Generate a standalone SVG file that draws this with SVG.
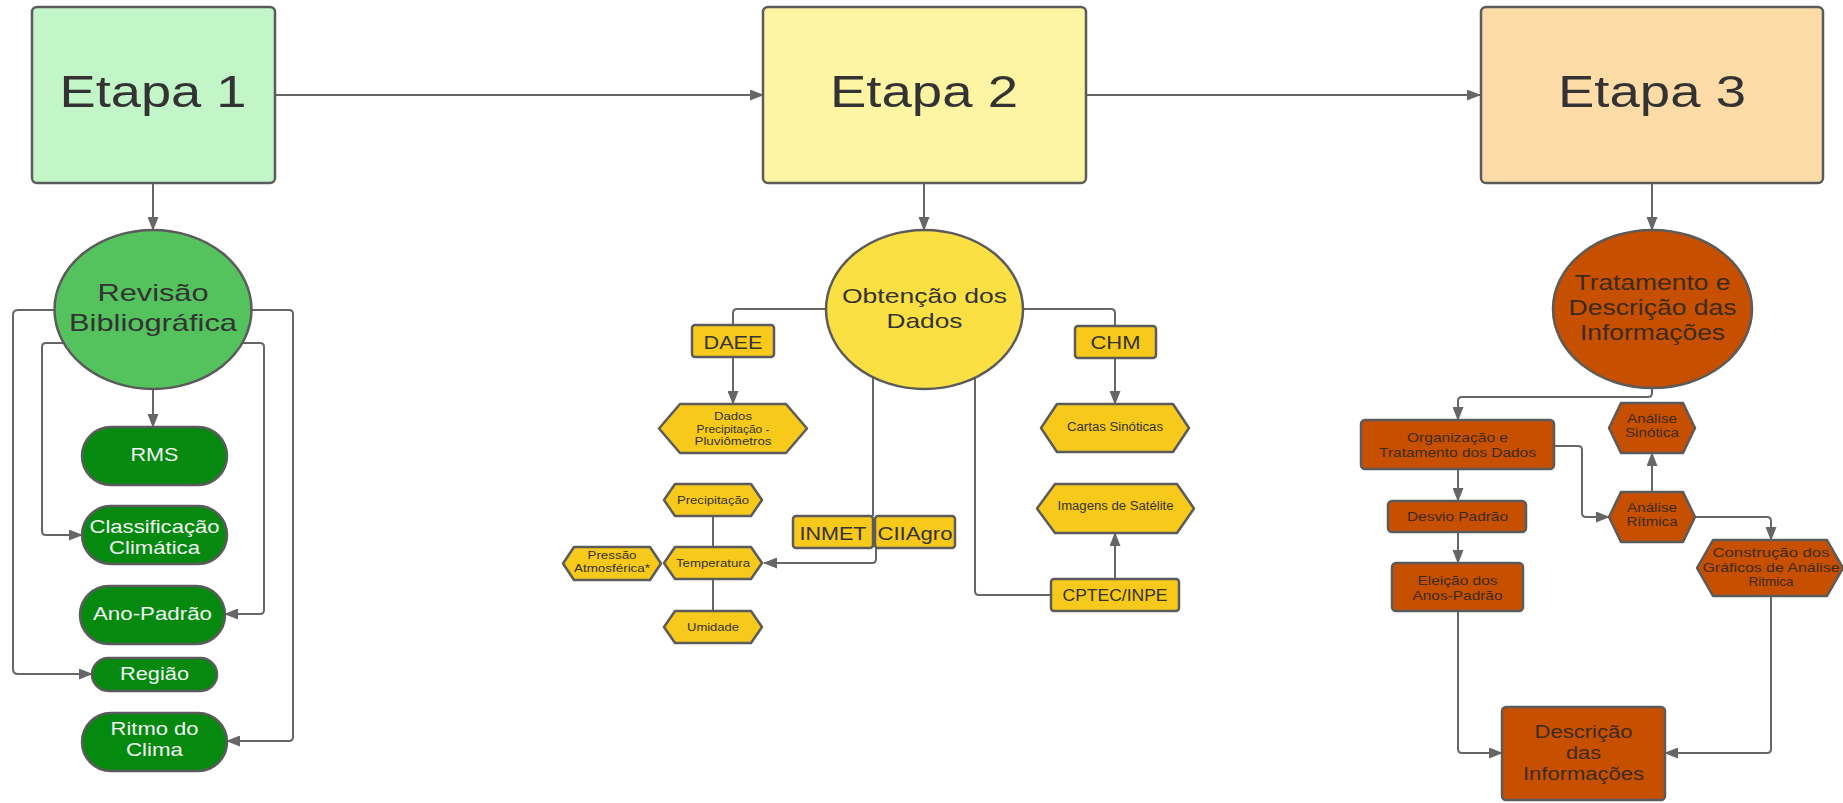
<svg xmlns="http://www.w3.org/2000/svg" width="1843" height="803" viewBox="0 0 1843 803">
<style>
.conn{fill:none;stroke:#666;stroke-width:2}
.nd{stroke:#5b5b5b;stroke-width:2.5}
text{font-family:"Liberation Sans",Arial,sans-serif;text-anchor:middle}
.big{font-size:44px;fill:#333}
.e1{fill:#c2f5c8}.e2{fill:#fdf5a3}.e3{fill:#fddca8}
.g1{fill:#54c25d}.g2{fill:#05890f}
.y1{fill:#fbe043}.y2{fill:#f7c91a}
.o1{fill:#c64f00}
.tg{font-size:18.5px;fill:#f2f5f2}
.td{fill:#333}
.to{fill:#3d2a1e}
</style>
<defs>
<marker id="ah" markerUnits="userSpaceOnUse" markerWidth="14" markerHeight="11" refX="13" refY="5.5" orient="auto"><path d="M0,0 L14,5.5 L0,11 z" fill="#666"/></marker>
</defs>
<g id="connectors">
<path class="conn" d="M275,95 L763,95" marker-end="url(#ah)"/>
<path class="conn" d="M1086,95 L1480,95" marker-end="url(#ah)"/>
<path class="conn" d="M153,183 L153,230" marker-end="url(#ah)"/>
<path class="conn" d="M924,183 L924,230" marker-end="url(#ah)"/>
<path class="conn" d="M1652,183 L1652,230" marker-end="url(#ah)"/>
<path class="conn" d="M153,389 L153,427" marker-end="url(#ah)"/>
<path class="conn" d="M60,310 L18,310 Q13,310 13,315 L13,669 Q13,674 18,674 L92,674" marker-end="url(#ah)"/>
<path class="conn" d="M66,343 L46,343 Q42,343 42,347 L42,531 Q42,535 46,535 L82,535" marker-end="url(#ah)"/>
<path class="conn" d="M240,343 L260,343 Q264,343 264,347 L264,610 Q264,614 260,614 L225,614" marker-end="url(#ah)"/>
<path class="conn" d="M245,310 L289,310 Q293,310 293,314 L293,737 Q293,741 289,741 L227,741" marker-end="url(#ah)"/>
<path class="conn" d="M830,309 L737,309 Q733,309 733,313 L733,325"/>
<path class="conn" d="M733,357 L733,404" marker-end="url(#ah)"/>
<path class="conn" d="M1020,309 L1111,309 Q1115,309 1115,313 L1115,326"/>
<path class="conn" d="M1115,358 L1115,404" marker-end="url(#ah)"/>
<path class="conn" d="M873,370 L873,516"/>
<path class="conn" d="M876,548 L876,559 Q876,563 872,563 L764,563" marker-end="url(#ah)"/>
<path class="conn" d="M975,370 L975,591 Q975,595 979,595 L1051,595"/>
<path class="conn" d="M1115,579 L1115,533" marker-end="url(#ah)"/>
<path class="conn" d="M713,516 L713,547"/>
<path class="conn" d="M713,579 L713,611"/>
<path class="conn" d="M1652,385 L1652,393 Q1652,397 1648,397 L1462,397 Q1458,397 1458,401 L1458,420" marker-end="url(#ah)"/>
<path class="conn" d="M1458,469 L1458,501" marker-end="url(#ah)"/>
<path class="conn" d="M1458,532 L1458,563" marker-end="url(#ah)"/>
<path class="conn" d="M1458,611 L1458,749 Q1458,753 1462,753 L1502,753" marker-end="url(#ah)"/>
<path class="conn" d="M1554,446 L1578,446 Q1582,446 1582,450 L1582,513 Q1582,517 1586,517 L1609,517" marker-end="url(#ah)"/>
<path class="conn" d="M1652,492 L1652,453" marker-end="url(#ah)"/>
<path class="conn" d="M1695,517 L1767,517 Q1771,517 1771,521 L1771,540" marker-end="url(#ah)"/>
<path class="conn" d="M1771,596 L1771,749 Q1771,753 1767,753 L1665,753" marker-end="url(#ah)"/>
</g>
<g id="etapa1"><rect class="nd e1" x="32" y="7" width="243" height="176" rx="5"/><text class="big" x="153" y="107" textLength="187" lengthAdjust="spacingAndGlyphs">Etapa 1</text></g>
<g id="etapa2"><rect class="nd e2" x="763" y="7" width="323" height="176" rx="5"/><text class="big" x="924" y="107" textLength="188" lengthAdjust="spacingAndGlyphs">Etapa 2</text></g>
<g id="etapa3"><rect class="nd e3" x="1481" y="7" width="342" height="176" rx="5"/><text class="big" x="1652" y="107" textLength="188" lengthAdjust="spacingAndGlyphs">Etapa 3</text></g>

<g id="revisao"><ellipse class="nd g1" cx="153" cy="309.5" rx="98.5" ry="79.5"/><text class="td" font-size="24" x="153" y="301" textLength="111" lengthAdjust="spacingAndGlyphs">Revisão</text><text class="td" font-size="24" x="153" y="331" textLength="168" lengthAdjust="spacingAndGlyphs">Bibliográfica</text></g>
<g id="rms"><rect class="nd g2" x="82" y="427" width="145" height="58" rx="29"/><text class="tg" x="154.5" y="461" textLength="48" lengthAdjust="spacingAndGlyphs">RMS</text></g>
<g id="classificacao"><rect class="nd g2" x="82" y="506" width="145" height="58" rx="29"/><text class="tg" x="154.5" y="533" textLength="130" lengthAdjust="spacingAndGlyphs">Classificação</text><text class="tg" x="154.5" y="554" textLength="91" lengthAdjust="spacingAndGlyphs">Climática</text></g>
<g id="anopadrao"><rect class="nd g2" x="80" y="586" width="145" height="58" rx="29"/><text class="tg" x="152.5" y="620" textLength="119" lengthAdjust="spacingAndGlyphs">Ano-Padrão</text></g>
<g id="regiao"><rect class="nd g2" x="92" y="658" width="125" height="33" rx="16.5"/><text class="tg" x="154.5" y="680" textLength="69" lengthAdjust="spacingAndGlyphs">Região</text></g>
<g id="ritmo"><rect class="nd g2" x="82" y="713" width="145" height="58" rx="29"/><text class="tg" x="154.5" y="735" textLength="88" lengthAdjust="spacingAndGlyphs">Ritmo do</text><text class="tg" x="154.5" y="756" textLength="57" lengthAdjust="spacingAndGlyphs">Clima</text></g>

<g id="obtencao"><ellipse class="nd y1" cx="924.5" cy="309.5" rx="98.5" ry="79.5"/><text class="td" font-size="21" x="924.5" y="303" textLength="165" lengthAdjust="spacingAndGlyphs">Obtenção dos</text><text class="td" font-size="21" x="924.5" y="328" textLength="76" lengthAdjust="spacingAndGlyphs">Dados</text></g>
<g id="daee"><rect class="nd y2" x="692" y="325" width="82" height="32" rx="3"/><text class="td" font-size="18.5" x="733" y="349" textLength="59" lengthAdjust="spacingAndGlyphs">DAEE</text></g>
<g id="chm"><rect class="nd y2" x="1075" y="326" width="81" height="32" rx="3"/><text class="td" font-size="18.5" x="1115.5" y="349" textLength="50" lengthAdjust="spacingAndGlyphs">CHM</text></g>
<g id="dadosprecip"><polygon class="nd y2" stroke-linejoin="round" points="659,428.5 680,404 786,404 807,428.5 786,453 680,453"/><text class="td" font-size="11" x="733" y="420" textLength="38" lengthAdjust="spacingAndGlyphs">Dados</text><text class="td" font-size="11" x="733" y="432.5" textLength="73" lengthAdjust="spacingAndGlyphs">Precipitação -</text><text class="td" font-size="11" x="733" y="445" textLength="77" lengthAdjust="spacingAndGlyphs">Pluviômetros</text></g>
<g id="cartas"><polygon class="nd y2" stroke-linejoin="round" points="1041,428 1057,404 1173,404 1189,428 1173,452 1057,452"/><text class="td" font-size="12" x="1115" y="431" textLength="96" lengthAdjust="spacingAndGlyphs">Cartas Sinóticas</text></g>
<g id="imagens"><polygon class="nd y2" stroke-linejoin="round" points="1037,508.5 1055,484 1177,484 1194,508.5 1177,533 1055,533"/><text class="td" font-size="12" x="1115.5" y="510" textLength="116" lengthAdjust="spacingAndGlyphs">Imagens de Satélite</text></g>
<g id="cptec"><rect class="nd y2" x="1051" y="579" width="128" height="32" rx="3"/><text class="td" font-size="17" x="1115" y="601" textLength="105" lengthAdjust="spacingAndGlyphs">CPTEC/INPE</text></g>
<g id="inmet"><rect class="nd y2" x="793" y="516" width="80" height="32" rx="3"/><text class="td" font-size="18.5" x="833" y="540" textLength="67" lengthAdjust="spacingAndGlyphs">INMET</text></g>
<g id="ciiagro"><rect class="nd y2" x="875" y="516" width="80" height="32" rx="3"/><text class="td" font-size="18.5" x="915" y="540" textLength="75" lengthAdjust="spacingAndGlyphs">CIIAgro</text></g>
<g id="precipitacao"><polygon class="nd y2" stroke-linejoin="round" points="664,500 675,484 751,484 762,500 751,516 675,516"/><text class="td" font-size="11.5" x="713" y="504" textLength="72" lengthAdjust="spacingAndGlyphs">Precipitação</text></g>
<g id="temperatura"><polygon class="nd y2" stroke-linejoin="round" points="664,563 675,547 751,547 762,563 751,579 675,579"/><text class="td" font-size="11.5" x="713" y="567" textLength="74" lengthAdjust="spacingAndGlyphs">Temperatura</text></g>
<g id="umidade"><polygon class="nd y2" stroke-linejoin="round" points="664,627 675,611 751,611 762,627 751,643 675,643"/><text class="td" font-size="11.5" x="713" y="631" textLength="52" lengthAdjust="spacingAndGlyphs">Umidade</text></g>
<g id="pressao"><polygon class="nd y2" stroke-linejoin="round" points="563,563.5 574,547 650,547 661,563.5 650,580 574,580"/><text class="td" font-size="11.5" x="612" y="559" textLength="49" lengthAdjust="spacingAndGlyphs">Pressão</text><text class="td" font-size="11.5" x="612" y="572" textLength="76" lengthAdjust="spacingAndGlyphs">Atmosférica*</text></g>

<g id="tratamento"><ellipse class="nd o1" cx="1652.5" cy="309" rx="99.5" ry="79"/><text class="to" font-size="22" x="1652.5" y="290" textLength="156" lengthAdjust="spacingAndGlyphs">Tratamento e</text><text class="to" font-size="22" x="1652.5" y="315" textLength="168" lengthAdjust="spacingAndGlyphs">Descrição das</text><text class="to" font-size="22" x="1652.5" y="340" textLength="145" lengthAdjust="spacingAndGlyphs">Informações</text></g>
<g id="organizacao"><rect class="nd o1" x="1361" y="420" width="193" height="49" rx="4"/><text class="to" font-size="13" x="1457.5" y="442" textLength="101" lengthAdjust="spacingAndGlyphs">Organização e</text><text class="to" font-size="13" x="1457.5" y="457" textLength="157" lengthAdjust="spacingAndGlyphs">Tratamento dos Dados</text></g>
<g id="desvio"><rect class="nd o1" x="1388" y="501" width="138" height="31" rx="4"/><text class="to" font-size="13" x="1457.5" y="521" textLength="101" lengthAdjust="spacingAndGlyphs">Desvio Padrão</text></g>
<g id="eleicao"><rect class="nd o1" x="1392" y="563" width="131" height="48" rx="4"/><text class="to" font-size="13" x="1457.5" y="585" textLength="80" lengthAdjust="spacingAndGlyphs">Eleição dos</text><text class="to" font-size="13" x="1457.5" y="600" textLength="90" lengthAdjust="spacingAndGlyphs">Anos-Padrão</text></g>
<g id="sinotica"><polygon class="nd o1" stroke-linejoin="round" points="1609,428 1621,403 1683,403 1695,428 1683,453 1621,453"/><text class="to" font-size="13" x="1652" y="423" textLength="50" lengthAdjust="spacingAndGlyphs">Análise</text><text class="to" font-size="13" x="1652" y="437" textLength="54" lengthAdjust="spacingAndGlyphs">Sinótica</text></g>
<g id="ritmica"><polygon class="nd o1" stroke-linejoin="round" points="1609,517 1621,492 1683,492 1695,517 1683,542 1621,542"/><text class="to" font-size="13" x="1652" y="512" textLength="50" lengthAdjust="spacingAndGlyphs">Análise</text><text class="to" font-size="13" x="1652" y="526" textLength="51" lengthAdjust="spacingAndGlyphs">Rítmica</text></g>
<g id="construcao"><polygon class="nd o1" stroke-linejoin="round" points="1697,568 1713,540 1827,540 1843,568 1827,596 1713,596"/><text class="to" font-size="13" x="1771" y="557" textLength="117" lengthAdjust="spacingAndGlyphs">Construção dos</text><text class="to" font-size="13" x="1771" y="572" textLength="137" lengthAdjust="spacingAndGlyphs">Gráficos de Análise</text><text class="to" font-size="13" x="1771" y="586" textLength="45" lengthAdjust="spacingAndGlyphs">Ritmica</text></g>
<g id="descricao"><rect class="nd o1" x="1502" y="707" width="163" height="93" rx="4"/><text class="to" font-size="17.5" x="1583.5" y="738" textLength="98" lengthAdjust="spacingAndGlyphs">Descrição</text><text class="to" font-size="17.5" x="1583.5" y="759" textLength="35" lengthAdjust="spacingAndGlyphs">das</text><text class="to" font-size="17.5" x="1583.5" y="780" textLength="121" lengthAdjust="spacingAndGlyphs">Informações</text></g>
</svg>
